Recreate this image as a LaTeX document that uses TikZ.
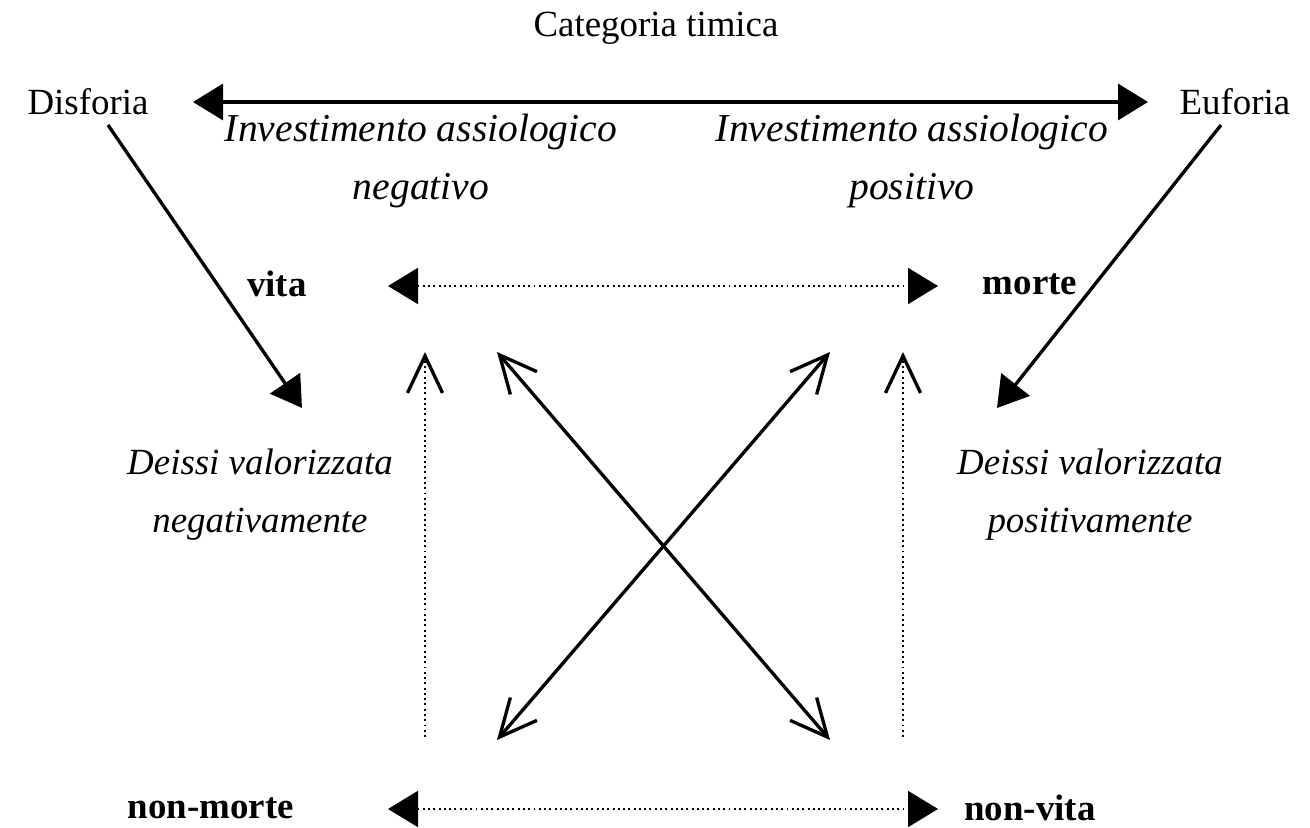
\documentclass[tikz,border=0pt]{standalone}
\usepackage{fontspec}
\setmainfont{Liberation Serif}
\usetikzlibrary{arrows.meta}

\begin{document}
\begin{tikzpicture}[x=0.2mm, y=-0.2mm,
    lbl/.style = {inner sep=0pt, font=\fontsize{21}{25}\selectfont},
    term/.style = {inner sep=0pt, font=\fontsize{21}{25}\selectfont\bfseries},
    note/.style = {inner sep=0pt, align=center, font=\fontsize{21}{33}\selectfont\itshape},
    big note/.style = {inner sep=0pt, align=center, font=\fontsize{22.5}{33}\selectfont\itshape},
    full/.style = {line width=1.9pt},
    dots/.style = {line width=1.1pt, dash pattern=on 1.1pt off 1.9pt},
    fill tip/.style = {arrows={-{Triangle[length=6mm, width=7.2mm]}}},
    both fill/.style = {arrows={{Triangle[length=6mm, width=7.2mm]}-{Triangle[length=6mm, width=7.2mm]}}},
    open tip/.style = {arrows={-{Straight Barb[length=7.4mm, width=7mm, line width=1.9pt]}}},
    both open/.style = {arrows={{Straight Barb[length=7.4mm, width=7mm, line width=1.9pt]}-{Straight Barb[length=7.4mm, width=7mm, line width=1.9pt]}}}]
    \useasboundingbox (0,0) rectangle (1310,828);

    % categoria timica
    \node[lbl] (cat tim) at (656,28) {Categoria timica};
    \node[lbl] (disf) at (88,102) {Disforia};
    \node[lbl] (euf) at (1235,102) {Euforia};

    \coordinate (tim l) at (193,102);
    \coordinate (tim r) at (1148,102);
    \draw[full, both fill] (tim l) -- (tim r);

    \node[big note] (inv neg) at (421,161) {Investimento assiologico \\ negativo};
    \node[big note] (inv pos) at (912,161) {Investimento assiologico \\ positivo};

    % quadrato semiotico
    \node[term] (vita) at (277,284) {vita};
    \node[term] (morte) at (1030,284) {morte};
    \node[term] (non morte) at (211,808) {non-morte};
    \node[term] (non vita) at (1030,808) {non-vita};

    \coordinate (vita r) at (388,286);
    \coordinate (morte l) at (938,286);
    \coordinate (nm r) at (388,809);
    \coordinate (nv l) at (938,809);
    \draw[dots, both fill] (vita r) -- (morte l);
    \draw[dots, both fill] (nm r) -- (nv l);

    \coordinate (vita b) at (425,352);
    \coordinate (nm t) at (425,737);
    \coordinate (morte b) at (903,352);
    \coordinate (nv t) at (903,737);
    \draw[dots, open tip] (nm t) -- (vita b);
    \draw[dots, open tip] (nv t) -- (morte b);

    \coordinate (x vita) at (497,352);
    \coordinate (x nv) at (830,740);
    \coordinate (x morte) at (830,352);
    \coordinate (x nm) at (497,740);
    \draw[full, both open] (x vita) -- (x nv);
    \draw[full, both open] (x morte) -- (x nm);

    % deissi
    \node[note] (deissi neg) at (260,495) {Deissi valorizzata \\ negativamente};
    \node[note] (deissi pos) at (1090,495) {Deissi valorizzata \\ positivamente};

    \coordinate (disf out) at (108,125);
    \coordinate (disf in) at (302,408);
    \coordinate (euf out) at (1221,125);
    \coordinate (euf in) at (997,408);
    \draw[full, fill tip] (disf out) -- (disf in);
    \draw[full, fill tip] (euf out) -- (euf in);
\end{tikzpicture}
\end{document}
